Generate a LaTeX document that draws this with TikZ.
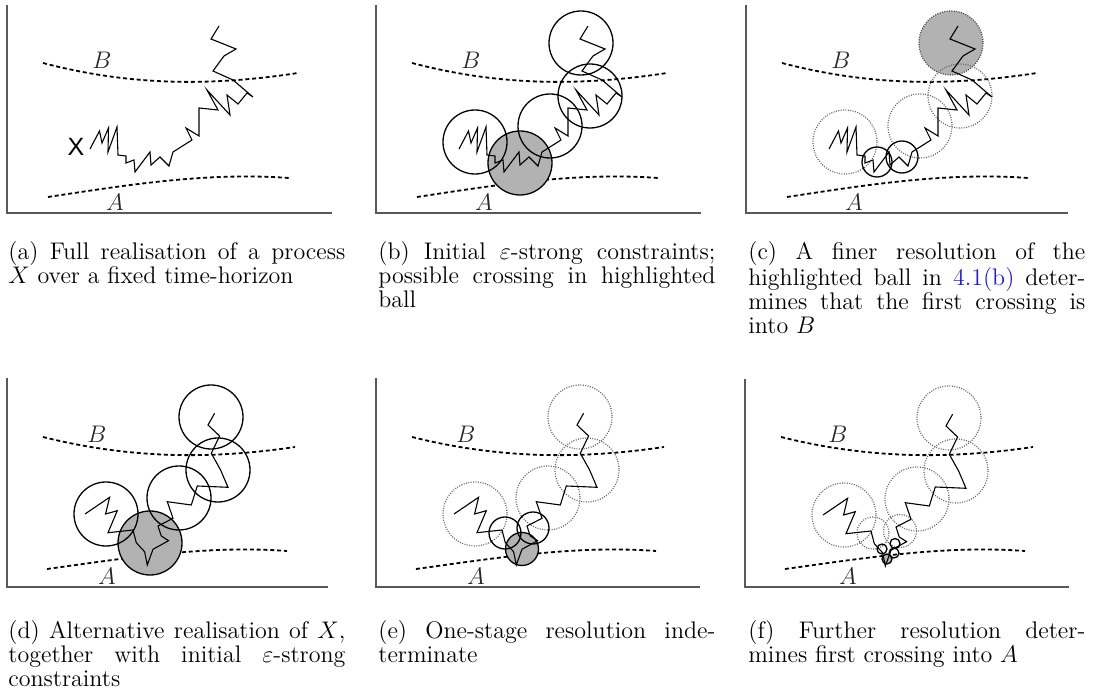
\documentclass[tikz,border=0pt]{standalone}
\usepackage{amsmath}
\usepackage{amsfonts}
\usepackage{fontspec}
\usepackage{tikz}
\newfontfamily\helv{Liberation Sans}
\definecolor{linkblue}{rgb}{0.1,0.1,0.9}

% the two sample paths, in panel coordinates
\newcommand{\walkone}{(83,144) -- (92.5,126) -- (95,138) -- (101.5,123) -- (101,147) -- (110,122) -- (111,150) -- (119,151) -- (119,158) -- (127,155) -- (128,167) -- (143,147) -- (144,160) -- (153,152) -- (162,161) -- (166,147) -- (185,135) -- (179,123) -- (192,131) -- (192,103) -- (211,105) -- (200,85) -- (223,110) -- (220,90) -- (231,99) -- (240,88) -- (246,92) -- (226,75) -- (206,66) -- (217,51) -- (229,44) -- (204,34) -- (212,21)}
\newcommand{\walktwo}{(78,136) -- (102.6,119.3) -- (98.6,136) -- (110.3,132.7) -- (101,154.7) -- (126,152) -- (129.3,164.7) -- (137.6,173.7) -- (140.3,187) -- (146,171.3) -- (161.6,162.7) -- (154.3,158) -- (151,148) -- (166,140.3) -- (160.3,123.7) -- (184.3,127) -- (190.3,108) -- (221,109.3) -- (213.6,92) -- (204.3,75.3) -- (212.6,58) -- (201,47) -- (207.6,35.3)}

\begin{document}
\begin{tikzpicture}[x=0.5pt, y=-0.5pt,
    walk/.style={line width=0.55pt, line join=miter},
    ball/.style={draw, line width=0.65pt},
    hot/.style={ball, fill=black!30},
    faint/.style={draw=black!60, line width=0.6pt, dash pattern=on 0.5pt off 0.7pt},
    level/.style={line width=0.9pt, dash pattern=on 2pt off 1.4pt},
    axis/.style={draw=black!65, line width=1pt},
    setname/.style={inner sep=0pt, font=\large, text=black!85},
    caption/.style={anchor=north west, inner sep=0pt, text width=168.5pt, align=justify,
        font=\fontsize{12}{12}\selectfont}]
    \useasboundingbox (0,0) rectangle (1094,699);

    % (a) the full path
    \begin{scope}[shift={(7,5)}]
        \draw[axis] (0,0) -- (0,208) -- (325,208);
        \draw[level] (36,58) .. controls (120,80) and (200,82) .. (291,68);
        \draw[level] (41,192) .. controls (120,180) and (200,167) .. (282,173);
        \node[setname] (Ba) at (95,55) {$B$};
        \node[setname] (Aa) at (108,197) {$A$};
        \node[inner sep=0pt, font=\helv\fontsize{12.5}{14}\selectfont] (Xa) at (69,142) {X};
        \draw[walk] \walkone;
    \end{scope}

    % (b) first balls
    \begin{scope}[shift={(376,5)}]
        \draw[axis] (0,0) -- (0,208) -- (325,208);
        \draw[level] (36,58) .. controls (120,80) and (200,82) .. (291,68);
        \draw[level] (41,192) .. controls (120,180) and (200,167) .. (282,173);
        \node[setname] (Bb) at (95,55) {$B$};
        \node[setname] (Ab) at (108,197) {$A$};
        \draw[hot] (144,158) circle (32);
        \draw[ball] (99,137) circle (32);
        \draw[ball] (174,121) circle (32);
        \draw[ball] (214,91) circle (32);
        \draw[ball] (205,38) circle (32);
        \draw[walk] \walkone;
    \end{scope}

    % (c) finer balls
    \begin{scope}[shift={(746,5)}]
        \draw[axis] (0,0) -- (0,208) -- (322,208);
        \draw[level] (36,58) .. controls (120,80) and (200,82) .. (291,68);
        \draw[level] (41,192) .. controls (120,180) and (200,167) .. (282,173);
        \node[setname] (Bc) at (95,55) {$B$};
        \node[setname] (Ac) at (108,197) {$A$};
        \draw[fill=black!30, draw=black!75, line width=0.6pt, dash pattern=on 0.5pt off 0.7pt] (205,38) circle (32);
        \draw[faint] (99,137) circle (32);
        \draw[faint] (174,121) circle (32);
        \draw[faint] (214,91) circle (32);
        \draw[ball] (131,157) circle (15);
        \draw[ball] (156,152) circle (16);
        \draw[walk] \walkone;
    \end{scope}

    % (d) second path with first balls
    \begin{scope}[shift={(7,378)}]
        \draw[axis] (0,0) -- (0,209) -- (321,209);
        \draw[level] (36,59) .. controls (120,80) and (200,82) .. (288,69);
        \draw[level] (40,191) .. controls (120,180) and (200,167) .. (280,173);
        \node[setname] (Bd) at (90,56) {$B$};
        \node[setname] (Ad) at (100,198) {$A$};
        \draw[hot] (143,165) circle (32);
        \draw[ball] (99,136) circle (32);
        \draw[ball] (172,120) circle (32);
        \draw[ball] (211,92) circle (32);
        \draw[ball] (204,39) circle (32);
        \draw[walk] \walktwo;
    \end{scope}

    % (e) one stage further
    \begin{scope}[shift={(376,378)}]
        \draw[axis] (0,0) -- (0,209) -- (324,209);
        \draw[level] (36,59) .. controls (120,80) and (200,82) .. (288,69);
        \draw[level] (40,191) .. controls (120,180) and (200,167) .. (280,173);
        \node[setname] (Be) at (90,56) {$B$};
        \node[setname] (Ae) at (100,198) {$A$};
        \draw[faint] (99,136) circle (32);
        \draw[faint] (172,120) circle (32);
        \draw[faint] (211,92) circle (32);
        \draw[faint] (204,39) circle (32);
        \draw[hot] (146,171) circle (16.5);
        \draw[ball] (129,155) circle (16);
        \draw[ball] (157,150) circle (16);
        \draw[walk] \walktwo;
    \end{scope}

    % (f) two stages further
    \begin{scope}[shift={(745,379)}]
        \draw[axis] (0,0) -- (0,208) -- (324,208);
        \draw[level] (36,58) .. controls (120,79) and (200,81) .. (288,68);
        \draw[level] (40,190) .. controls (120,179) and (200,166) .. (280,172);
        \node[setname] (Bf) at (93,55) {$B$};
        \node[setname] (Af) at (103,197) {$A$};
        \draw[faint] (99,136) circle (32);
        \draw[faint] (172,120) circle (32);
        \draw[faint] (211,92) circle (32);
        \draw[faint] (204,39) circle (32);
        \draw[faint] (128,154) circle (16);
        \draw[faint] (155,152) circle (16.5);
        \draw[hot] (142,180) circle (5);
        \draw[ball] (137,170) circle (5);
        \draw[ball] (150,164.5) circle (5);
        \draw[ball] (149,174) circle (5);
        \draw[walk] \walktwo;
    \end{scope}

    % captions
    \node[caption] (capa) at (8,241) {(a) Full realisation of a process\linebreak $X$ over a fixed time-horizon};
    \node[caption] (capb) at (378,241) {(b) Initial $\varepsilon$-strong constraints;\linebreak possible crossing in highlighted\linebreak ball};
    \node[caption] (capc) at (748,241) {(c) A finer resolution of the\linebreak highlighted ball in \textcolor{linkblue}{4.1(b)} deter-\linebreak mines that the first crossing is\linebreak into $B$};
    \node[caption] (capd) at (8,620) {(d) Alternative realisation of $X$,\linebreak together with initial $\varepsilon$-strong\linebreak constraints};
    \node[caption] (cape) at (378,620) {(e) One-stage resolution inde-\linebreak terminate};
    \node[caption] (capf) at (748,620) {(f) Further resolution deter-\linebreak mines first crossing into $A$};
\end{tikzpicture}
\end{document}
